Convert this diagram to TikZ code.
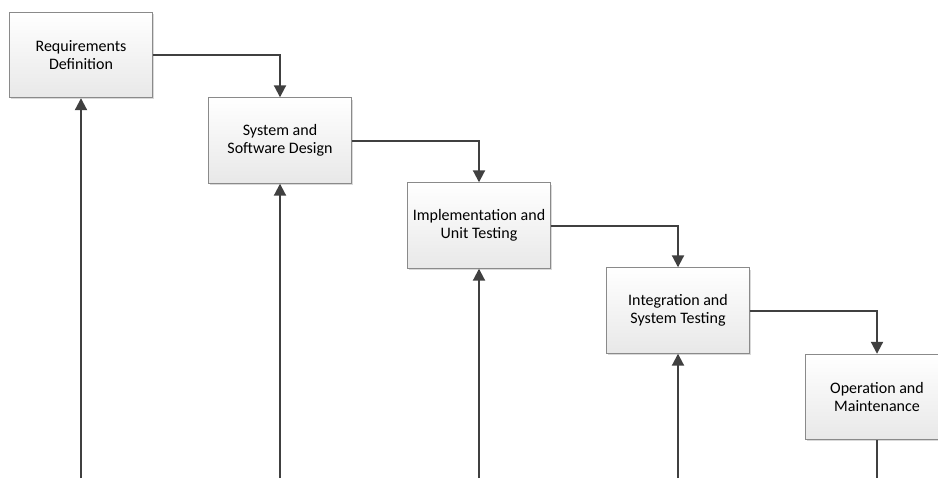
\documentclass[tikz,border=0pt]{standalone}
\usepackage{fontspec}
\setmainfont{Carlito}
\usetikzlibrary{arrows.meta,shadows}
\definecolor{flowline}{HTML}{404040}
\definecolor{boxedge}{HTML}{8A8A8A}
\begin{document}
\begin{tikzpicture}[x=0.75pt,y=-0.75pt,
  stage/.style={draw=boxedge,line width=0.8pt,
    top color=white,bottom color=black!9,
    minimum width=107pt,minimum height=64pt,
    align=center,font=\fontsize{12}{13.8}\selectfont,
    drop shadow={shadow xshift=1.3pt,shadow yshift=-1.3pt,fill=black!25,opacity=0.6}},
  flow/.style={draw=flowline,line width=1.5pt,
    -{Triangle[length=9pt,width=9pt]}},
  tail/.style={draw=flowline,line width=1.5pt}]
\useasboundingbox (0,0) rectangle (938,478);
\clip (0,0) rectangle (938,478);

% the five stages, stepping down to the right
\node[stage] (r1) at (81,55) {Requirements\\Definition};
\node[stage] (r2) at (280,140.5) {System and\\Software Design};
\node[stage] (r3) at (479,225.5) {Implementation and\\Unit Testing};
\node[stage] (r4) at (678,310.5) {Integration and\\System Testing};
\node[stage] (r5) at (877,397) {Operation and\\Maintenance};

% forward hand-offs: out of the right side, down into the next stage
\draw[flow] (r1.east) -| (r2.north);
\draw[flow] (r2.east) -| (r3.north);
\draw[flow] (r3.east) -| (r4.north);
\draw[flow] (r4.east) -| (r5.north);

% feedback lines rising from below into each stage
\coordinate (b1) at (r1.center |- 0,478);
\coordinate (b2) at (r2.center |- 0,478);
\coordinate (b3) at (r3.center |- 0,478);
\coordinate (b4) at (r4.center |- 0,478);
\coordinate (b5) at (r5.center |- 0,478);
\draw[flow] (b1) -- (r1.south);
\draw[flow] (b2) -- (r2.south);
\draw[flow] (b3) -- (r3.south);
\draw[flow] (b4) -- (r4.south);
\draw[tail] (r5.south) -- (b5);
\end{tikzpicture}
\end{document}
